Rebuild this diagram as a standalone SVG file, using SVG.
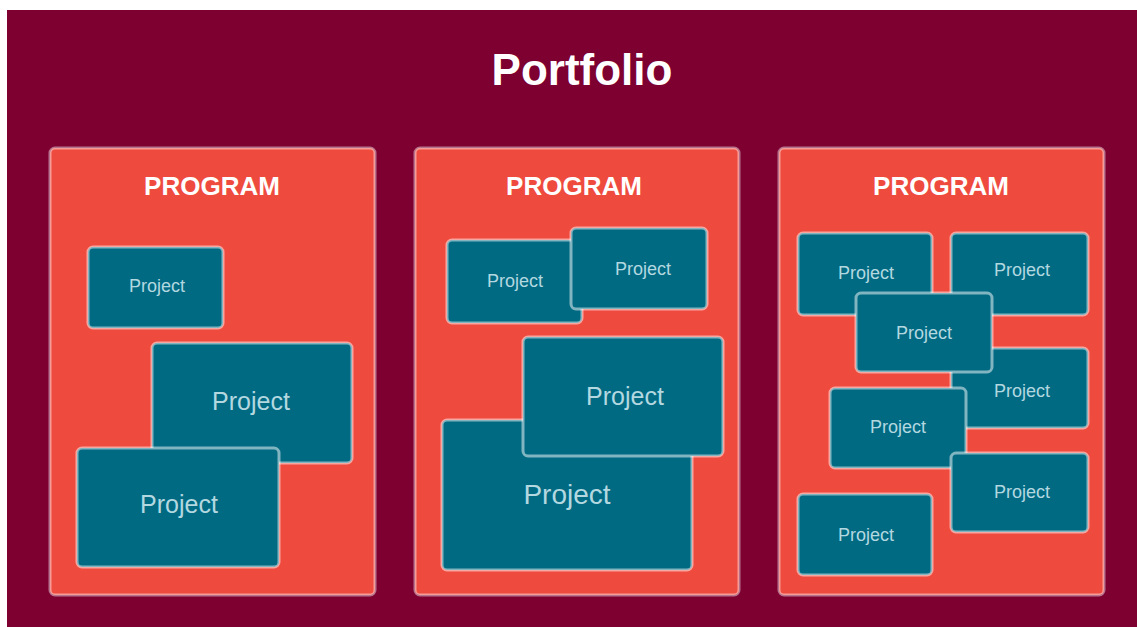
<svg xmlns="http://www.w3.org/2000/svg" width="1137" height="627" viewBox="0 0 1137 627">
<style>
.prog{fill:#ef4a3e;stroke:#ffffff;stroke-opacity:0.45;stroke-width:3}
.proj{fill:#006a82;stroke:#ffffff;stroke-opacity:0.5;stroke-width:3}
.ptitle{font-family:"Liberation Sans",Arial,sans-serif;font-weight:bold;font-size:26px;fill:#ffffff;text-anchor:middle}
.pt{font-family:"Liberation Sans",Arial,sans-serif;fill:#b3d8e0;text-anchor:middle}
.s{font-size:18px}.m{font-size:25px}.l{font-size:28px}
</style>
<rect x="0" y="0" width="1137" height="627" fill="#ffffff"/>
<rect x="7" y="10" width="1130" height="617" fill="#7d0030"/>
<text x="582" y="85" font-family="'Liberation Sans',Arial,sans-serif" font-weight="bold" font-size="44" fill="#ffffff" text-anchor="middle">Portfolio</text>
<g id="connectors"/>
<g id="program1">
<rect class="prog" x="50" y="148" width="325" height="447" rx="5"/>
<text class="ptitle" x="212" y="195">PROGRAM</text>
</g>
<g id="p1a"><rect class="proj" x="88" y="247" width="135" height="81" rx="5"/><text class="pt s" x="157" y="292">Project</text></g>
<g id="p1b"><rect class="proj" x="152" y="343" width="200" height="120" rx="5"/><text class="pt m" x="251" y="410">Project</text></g>
<g id="p1c"><rect class="proj" x="77" y="448" width="202" height="119" rx="5"/><text class="pt m" x="179" y="513">Project</text></g>
<g id="program2">
<rect class="prog" x="415" y="148" width="324" height="447" rx="5"/>
<text class="ptitle" x="574" y="195">PROGRAM</text>
</g>
<g id="p2a"><rect class="proj" x="447" y="240" width="135" height="83" rx="5"/><text class="pt s" x="515" y="287">Project</text></g>
<g id="p2b"><rect class="proj" x="571" y="228" width="136" height="81" rx="5"/><text class="pt s" x="643" y="275">Project</text></g>
<g id="p2d"><rect class="proj" x="442" y="420" width="250" height="150" rx="5"/><text class="pt l" x="567" y="504">Project</text></g>
<g id="p2c"><rect class="proj" x="523" y="337" width="200" height="119" rx="5"/><text class="pt m" x="625" y="405">Project</text></g>
<g id="program3">
<rect class="prog" x="779" y="148" width="325" height="447" rx="5"/>
<text class="ptitle" x="941" y="195">PROGRAM</text>
</g>
<g id="q1"><rect class="proj" x="798" y="233" width="134" height="82" rx="5"/><text class="pt s" x="866" y="279">Project</text></g>
<g id="q2"><rect class="proj" x="951" y="233" width="137" height="82" rx="5"/><text class="pt s" x="1022" y="276">Project</text></g>
<g id="q4"><rect class="proj" x="951" y="348" width="137" height="80" rx="5"/><text class="pt s" x="1022" y="397">Project</text></g>
<g id="q3"><rect class="proj" x="856" y="293" width="136" height="79" rx="5"/><text class="pt s" x="924" y="339">Project</text></g>
<g id="q5"><rect class="proj" x="830" y="388" width="136" height="80" rx="5"/><text class="pt s" x="898" y="433">Project</text></g>
<g id="q6"><rect class="proj" x="951" y="453" width="137" height="79" rx="5"/><text class="pt s" x="1022" y="498">Project</text></g>
<g id="q7"><rect class="proj" x="798" y="494" width="134" height="81" rx="5"/><text class="pt s" x="866" y="541">Project</text></g>
</svg>
